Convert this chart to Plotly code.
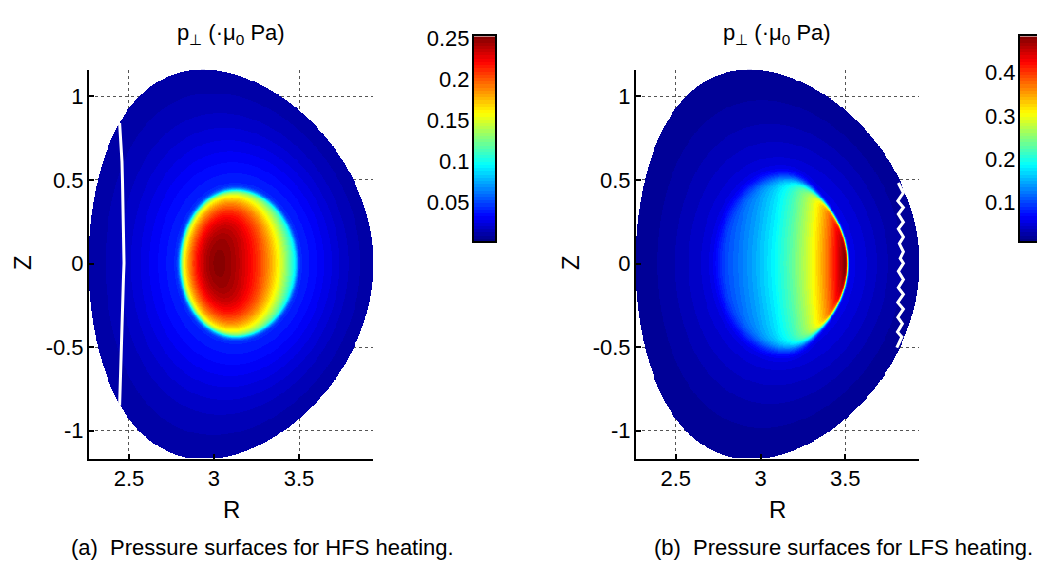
import numpy as np
import plotly.graph_objects as go

# ---- axes ------------------------------------------------------------------
R_RANGE = [2.265, 3.935]
Z_RANGE = [-1.17, 1.158]
R_TICKS = [2.5, 3.0, 3.5]
R_TICK_TEXT = ["2.5", "3", "3.5"]
Z_TICKS = [-1.0, -0.5, 0.0, 0.5, 1.0]
Z_TICK_TEXT = ["-1", "-0.5", "0", "0.5", "1"]

# ---- plasma boundary / flux-surface geometry ---------------------------------
MAJOR_RADIUS = 3.1
MINOR_RADIUS = 0.835
KAPPA_EDGE = [1.387, 1.401]      # upper, lower elongation
DELTA_EDGE = [0.20, 0.19]        # upper, lower triangularity
KAPPA_AXIS = 1.25
SHAFRANOV_SHIFT = 0.055

# ---- pressure profile parameters (HFS, LFS) -----------------------------------
EDGE_RHO = [0.415, 0.48]         # flux surface bounding the heated core (inboard part)
EDGE_WIDTH = [0.015, 0.04]
EDGE_RHO_OUT = [0.415, 0.44]     # same, on the outboard side of the core
EDGE_WIDTH_OUT = [0.015, 0.008]
EDGE_SWITCH_R = [3.3, 3.3]
CORE_AMP = [0.20, 0.43]
CORE_PEDESTAL = [0.45, 1.0]      # fraction of core value kept at the edge
CORE_R_REF = [2.95, 3.5]
CORE_R_SLOPE = [0.0, 3.3]
CORE_R_WIDTH = [0.6, 1000.0]
BG_FLOOR = [0.012, 0.02]
BG_AMP = [0.045, 0.06]

# colour limits of each panel
C_RANGE_HFS = [0.002, 0.252]
C_RANGE_LFS = [0.009, 0.484]
CBAR_TICKS_HFS = [0.05, 0.1, 0.15, 0.2, 0.25]
CBAR_TEXT_HFS = ["0.05", "0.1", "0.15", "0.2", "0.25"]
CBAR_TICKS_LFS = [0.1, 0.2, 0.3, 0.4]
CBAR_TEXT_LFS = ["0.1", "0.2", "0.3", "0.4"]

# resonance layers
RES_HFS_Z = [0.840, 0.726, 0.609, 0.491, 0.374, 0.257, 0.139, 0.002, -0.076,
             -0.194, -0.311, -0.429, -0.546, -0.664, -0.781, -0.850]
RES_HFS_R = [2.445, 2.453, 2.459, 2.462, 2.465, 2.466, 2.468, 2.471, 2.468,
             2.465, 2.462, 2.459, 2.455, 2.451, 2.449, 2.445]
RES_LFS_Z = [0.481, 0.423, 0.374, 0.335, 0.295, 0.247, 0.207, 0.159, 0.119,
             0.070, 0.031, 0.002, -0.047, -0.096, -0.145, -0.184, -0.233,
             -0.272, -0.321, -0.360, -0.409, -0.439, -0.503]
RES_LFS_R = [3.813, 3.843, 3.810, 3.843, 3.813, 3.843, 3.813, 3.843, 3.819,
             3.843, 3.824, 3.843, 3.813, 3.843, 3.813, 3.843, 3.810, 3.843,
             3.810, 3.837, 3.808, 3.834, 3.804]

TITLE = "p<sub>⊥</sub> (·μ<sub>0</sub> Pa)"
CAPTIONS = ["(a)  Pressure surfaces for HFS heating.",
            "(b)  Pressure surfaces for LFS heating."]

FONT = "Liberation Sans, Arial, Helvetica, sans-serif"
W, H = 1037, 570


def inside_surface(R, Z, rho):
    up = Z >= 0
    kb = np.where(up, KAPPA_EDGE[0], KAPPA_EDGE[1])
    db = np.where(up, DELTA_EDGE[0], DELTA_EDGE[1])
    kap = KAPPA_AXIS + (kb - KAPPA_AXIS) * rho ** 2
    dlt = db * rho ** 2
    rc = MAJOR_RADIUS + SHAFRANOV_SHIFT * (1 - rho ** 2)
    ar = MINOR_RADIUS * np.maximum(rho, 1e-9)
    s = np.clip(np.abs(Z) / (kap * ar), 0, 2)
    th = np.arcsin(np.clip(s, 0, 1))
    r_out = rc + ar * np.cos(th + dlt * np.clip(s, 0, 1))
    r_in = rc + ar * np.cos(np.pi - th + dlt * np.clip(s, 0, 1))
    return (s <= 1) & (R >= r_in) & (R <= r_out)


def flux_label(R, Z):
    lo = np.zeros_like(R)
    hi = np.full_like(R, 1.3)
    for _ in range(40):
        mid = 0.5 * (lo + hi)
        ins = inside_surface(R, Z, mid)
        hi = np.where(ins, mid, hi)
        lo = np.where(ins, lo, mid)
    return hi


r_grid = np.linspace(R_RANGE[0], R_RANGE[1], 300)
z_grid = np.linspace(Z_RANGE[0], Z_RANGE[1], 420)
RR, ZZ = np.meshgrid(r_grid, z_grid)
RHO = flux_label(RR, ZZ)


def pressure(k):
    inboard = 1.0 / (1.0 + np.exp((RR - EDGE_SWITCH_R[k]) / 0.05))
    rho_e = EDGE_RHO_OUT[k] + (EDGE_RHO[k] - EDGE_RHO_OUT[k]) * inboard
    w_e = EDGE_WIDTH_OUT[k] + (EDGE_WIDTH[k] - EDGE_WIDTH_OUT[k]) * inboard
    x = RHO / EDGE_RHO[k]
    step = 0.5 * (1 - np.tanh((RHO - rho_e) / w_e))
    shape = CORE_PEDESTAL[k] + (1 - CORE_PEDESTAL[k]) * np.clip(1 - x ** 4, 0, None)
    dr = RR - CORE_R_REF[k]
    tilt = np.exp(CORE_R_SLOPE[k] * dr - (dr / CORE_R_WIDTH[k]) ** 2)
    bg = BG_FLOOR[k] + BG_AMP[k] * np.clip(1 - RHO ** 2, 0, None) ** 2
    p = bg + CORE_AMP[k] * step * shape * tilt
    return np.where(RHO <= 1.0, p, np.nan)


def jet(v):
    r = np.clip(1.5 - abs(4 * v - 3), 0, 1)
    g = np.clip(1.5 - abs(4 * v - 2), 0, 1)
    b = np.clip(1.5 - abs(4 * v - 1), 0, 1)
    return f"rgb({int(round(r*255))},{int(round(g*255))},{int(round(b*255))})"


N_COL = 64
JET = []
for i in range(N_COL):
    c = jet((i + 0.5) / N_COL)
    JET.append([i / N_COL, c])
    JET.append([(i + 1) / N_COL, c])

fig = go.Figure()

panels = [
    dict(xa="x", ya="y", cb_x="x3", cb_y="y3", crange=C_RANGE_HFS,
         res_r=RES_HFS_R, res_z=RES_HFS_Z),
    dict(xa="x2", ya="y2", cb_x="x4", cb_y="y4", crange=C_RANGE_LFS,
         res_r=RES_LFS_R, res_z=RES_LFS_Z),
]

for k, p in enumerate(panels):
    fig.add_trace(go.Heatmap(
        x=r_grid, y=z_grid, z=pressure(k), colorscale=JET,
        zmin=p["crange"][0], zmax=p["crange"][1], zsmooth=False,
        showscale=False, hoverinfo="skip", xaxis=p["xa"], yaxis=p["ya"]))
    fig.add_trace(go.Scatter(
        x=p["res_r"], y=p["res_z"], mode="lines",
        line=dict(color="white", width=3), hoverinfo="skip",
        showlegend=False, xaxis=p["xa"], yaxis=p["ya"]))
    levels = np.linspace(p["crange"][0], p["crange"][1], 256)
    fig.add_trace(go.Heatmap(
        x=[0], y=levels, z=[[v] for v in levels], colorscale=JET,
        zmin=p["crange"][0], zmax=p["crange"][1], showscale=False,
        hoverinfo="skip", xaxis=p["cb_x"], yaxis=p["cb_y"]))

tick_font = dict(family=FONT, size=22, color="black")


def main_x(domain, anchor):
    return dict(domain=domain, anchor=anchor, range=R_RANGE,
                tickvals=R_TICKS, ticktext=R_TICK_TEXT, ticks="inside",
                ticklen=5, tickwidth=2, tickcolor="black",
                showline=True, linewidth=2, linecolor="black", mirror=False,
                showgrid=True, griddash="dot", gridcolor="#555", gridwidth=1,
                zeroline=False, tickfont=tick_font, ticklabelstandoff=-2,
                fixedrange=True)


def main_y(domain, anchor):
    return dict(domain=domain, anchor=anchor, range=Z_RANGE,
                tickvals=Z_TICKS, ticktext=Z_TICK_TEXT, ticks="inside",
                ticklen=5, tickwidth=2, tickcolor="black",
                showline=True, linewidth=2, linecolor="black", mirror=False,
                showgrid=True, griddash="dot", gridcolor="#555", gridwidth=1,
                zeroline=False, tickfont=tick_font, ticklabelstandoff=-1,
                fixedrange=True)


def bar_x(domain, anchor):
    return dict(domain=domain, anchor=anchor, range=[-0.5, 0.5],
                showticklabels=False, ticks="", showgrid=False,
                zeroline=False, showline=True, linewidth=2,
                linecolor="black", mirror=True, fixedrange=True)


def bar_y(domain, anchor, crange, tv, tt, mirror):
    return dict(domain=domain, anchor=anchor, range=crange, side="left",
                tickvals=tv, ticktext=tt, ticks="", showgrid=False,
                zeroline=False, showline=True, linewidth=2,
                linecolor="black", mirror=mirror, tickfont=tick_font,
                ticklabelstandoff=-2, fixedrange=True)


y_dom = [(H - 457) / H, (H - 60) / H]
cb_dom = [(H - 235) / H, (H - 26) / H]

fig.update_layout(
    width=W, height=H, margin=dict(l=0, r=0, t=0, b=0),
    paper_bgcolor="white", plot_bgcolor="white", showlegend=False,
    font=dict(family=FONT, color="black"),
    xaxis=main_x([89 / W, 373 / W], "y"),
    yaxis=main_y(y_dom, "x"),
    xaxis2=main_x([636 / W, 919 / W], "y2"),
    yaxis2=main_y(y_dom, "x2"),
    xaxis3=bar_x([474 / W, 495 / W], "y3"),
    yaxis3=bar_y(cb_dom, "x3", C_RANGE_HFS, CBAR_TICKS_HFS, CBAR_TEXT_HFS, True),
    xaxis4=bar_x([1020 / W, 1.0], "y4"),
    yaxis4=bar_y(cb_dom, "x4", C_RANGE_LFS, CBAR_TICKS_LFS, CBAR_TEXT_LFS, False),
)

ann = []
for cx, zx, cap_x, cap in [(231, 22, 262, CAPTIONS[0]), (777, 570, 843, CAPTIONS[1])]:
    ann.append(dict(text=TITLE, x=cx / W, y=1 - 23 / H, xref="paper", yref="paper",
                    xanchor="center", yanchor="middle", showarrow=False,
                    font=dict(family=FONT, size=22)))
    ann.append(dict(text="R", x=cx / W, y=1 - 508 / H, xref="paper", yref="paper",
                    xanchor="center", yanchor="middle", showarrow=False,
                    font=dict(family=FONT, size=24)))
    ann.append(dict(text="Z", x=zx / W, y=1 - 257 / H, xref="paper", yref="paper",
                    xanchor="center", yanchor="middle", showarrow=False,
                    textangle=-90, font=dict(family=FONT, size=24)))
    ann.append(dict(text=cap, x=cap_x / W, y=1 - 547 / H, xref="paper", yref="paper",
                    xanchor="center", yanchor="middle", showarrow=False,
                    font=dict(family=FONT, size=22)))
fig.update_layout(annotations=ann)

fig.write_html("out.html")
